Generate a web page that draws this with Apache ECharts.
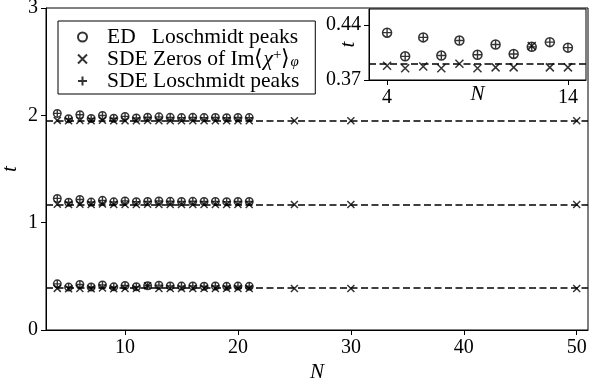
<!DOCTYPE html>
<html>
<head>
<meta charset="utf-8">
<script src="https://cdn.jsdelivr.net/npm/echarts@6/dist/echarts.min.js"></script>
<style>
  html, body { margin: 0; padding: 0; background: #fff; }
  #main { width: 598px; height: 384px; }
</style>
</head>
<body>
<div id="main"></div>
<script>
// system sizes N
var nSmall = [4, 5, 6, 7, 8, 9, 10, 11, 12, 13, 14, 15, 16, 17, 18, 19, 20, 21];
var nZeros = [4, 5, 6, 7, 8, 9, 10, 11, 12, 13, 14, 15, 16, 17, 18, 19, 20, 21, 25, 30, 50];

// reference lines (dashed)
var refLines = [0.386, 1.17, 1.95];

// ED Loschmidt peaks, one array per band
var edBand1 = [0.430, 0.400, 0.424, 0.401, 0.420, 0.402, 0.415, 0.403, 0.412, 0.418, 0.411, 0.409, 0.411, 0.408, 0.410, 0.407, 0.409, 0.407];
var edBand2 = [1.226, 1.190, 1.216, 1.192, 1.208, 1.194, 1.203, 1.196, 1.198, 1.202, 1.199, 1.197, 1.199, 1.197, 1.198, 1.196, 1.198, 1.197];
var edBand3 = [2.018, 1.968, 2.006, 1.970, 1.998, 1.973, 1.990, 1.975, 1.982, 1.986, 1.981, 1.979, 1.981, 1.979, 1.980, 1.978, 1.980, 1.979];

// SDE Loschmidt peaks
var sdeBand1 = [0.430, 0.400, 0.424, 0.401, 0.420, 0.402, 0.415, 0.403, 0.412, 0.418, 0.411, 0.409, 0.411, 0.408, 0.410, 0.407, 0.409, 0.407];
var sdeBand2 = [1.226, 1.190, 1.216, 1.192, 1.208, 1.194, 1.203, 1.196, 1.198, 1.202, 1.199, 1.197, 1.199, 1.197, 1.198, 1.196, 1.198, 1.197];
var sdeBand3 = [2.018, 1.968, 2.006, 1.970, 1.998, 1.973, 1.990, 1.975, 1.982, 1.986, 1.981, 1.979, 1.981, 1.979, 1.980, 1.978, 1.980, 1.979];

// SDE zeros of Im<chi+>_phi
var zeroBand1 = [0.388, 0.385, 0.387, 0.385, 0.3905, 0.385, 0.386, 0.386, 0.413, 0.386, 0.386, 0.386, 0.386, 0.386, 0.386, 0.386, 0.386, 0.386, 0.386, 0.386, 0.386];
var zeroBand2 = [1.172, 1.169, 1.171, 1.169, 1.174, 1.169, 1.170, 1.170, 1.171, 1.170, 1.170, 1.170, 1.170, 1.170, 1.170, 1.170, 1.170, 1.170, 1.170, 1.170, 1.170];
var zeroBand3 = [1.953, 1.949, 1.951, 1.949, 1.955, 1.949, 1.950, 1.950, 1.951, 1.950, 1.950, 1.950, 1.950, 1.950, 1.950, 1.950, 1.950, 1.950, 1.950, 1.950, 1.950];

var xTicksMain = [10, 20, 30, 40, 50];
var xTicksInset = [4, 14];
var yTicksInset = [0.37, 0.44];

var nameED = 'ED   Loschmidt peaks';
var nameZeros = 'SDE Zeros';
var nameSDE = 'SDE Loschmidt peaks';

var FONT = "'Liberation Serif', serif";
var crossPath = 'path://M0,0L10,10M10,0L0,10';
var plusPath = 'path://M5,0L5,10M0,5L10,5';

function pairs(xs, ys, maxN) {
    var res = [];
    for (var i = 0; i < xs.length; i++) {
        if (maxN == null || xs[i] <= maxN) res.push([xs[i], ys[i]]);
    }
    return res;
}

var myChart = echarts.init(document.getElementById('main'));

function axisBase() {
    return {
        type: 'value',
        axisLine: { show: true, onZero: false, lineStyle: { color: '#000', width: 1 } },
        axisTick: { show: true, inside: false, length: 5, lineStyle: { color: '#000', width: 1 } },
        axisLabel: { color: '#000', fontFamily: FONT, fontSize: 20, margin: 8 },
        splitLine: { show: false },
        nameMoveOverlap: false,
        nameTextStyle: { color: '#000', fontFamily: FONT, fontSize: 21, fontStyle: 'italic' }
    };
}

var xMain = axisBase();
xMain.gridIndex = 0; xMain.min = 3; xMain.max = 51;
xMain.axisTick.customValues = xTicksMain;
xMain.axisLabel.customValues = xTicksMain;
xMain.name = 'N'; xMain.nameLocation = 'middle'; xMain.nameGap = 32;

var yMain = axisBase();
yMain.gridIndex = 0; yMain.min = 0; yMain.max = 3; yMain.interval = 1;
yMain.name = 't'; yMain.nameLocation = 'middle'; yMain.nameGap = 25; yMain.nameRotate = 90;

var xInset = axisBase();
xInset.gridIndex = 1; xInset.min = 3; xInset.max = 15;
xInset.axisTick.customValues = xTicksInset;
xInset.axisLabel.customValues = xTicksInset;
xInset.name = 'N'; xInset.nameLocation = 'middle'; xInset.nameGap = 4;

var yInset = axisBase();
yInset.gridIndex = 1; yInset.min = 0.37; yInset.max = 0.46;
yInset.axisTick.customValues = yTicksInset;
yInset.axisLabel.customValues = yTicksInset;
yInset.axisLabel.formatter = function (v) { return v.toFixed(2); };
yInset.name = 't'; yInset.nameLocation = 'middle'; yInset.nameGap = 10; yInset.nameRotate = 90;

function circleSeries(data, xi, size) {
    return {
        name: nameED, type: 'scatter', xAxisIndex: xi, yAxisIndex: xi,
        data: data, symbol: 'circle', symbolSize: size,
        itemStyle: { color: 'rgba(0,0,0,0)', borderColor: '#000', borderWidth: 1.5 },
        z: 4
    };
}
function crossSeries(data, xi, size) {
    return {
        name: nameZeros, type: 'scatter', xAxisIndex: xi, yAxisIndex: xi,
        data: data, symbol: crossPath, symbolSize: size,
        itemStyle: { color: 'rgba(0,0,0,0)', borderColor: '#000', borderWidth: 1.5 },
        z: 4
    };
}
function plusSeries(data, xi, size) {
    return {
        name: nameSDE, type: 'scatter', xAxisIndex: xi, yAxisIndex: xi,
        data: data, symbol: plusPath, symbolSize: size,
        itemStyle: { color: 'rgba(0,0,0,0)', borderColor: '#000', borderWidth: 1.4 },
        z: 4
    };
}
function dashSeries(values, xi) {
    return {
        type: 'line', xAxisIndex: xi, yAxisIndex: xi, data: [], silent: true,
        markLine: {
            symbol: 'none', silent: true, animation: false,
            label: { show: false },
            lineStyle: { color: '#000', width: 1.5, type: [7, 3.5] },
            data: values.map(function (v) { return { yAxis: v }; })
        },
        z: 3
    };
}

var series = [
    dashSeries(refLines, 0),
    circleSeries(pairs(nSmall, edBand1), 0, 7.5),
    circleSeries(pairs(nSmall, edBand2), 0, 7.5),
    circleSeries(pairs(nSmall, edBand3), 0, 7.5),
    crossSeries(pairs(nZeros, zeroBand1), 0, 7),
    crossSeries(pairs(nZeros, zeroBand2), 0, 7),
    crossSeries(pairs(nZeros, zeroBand3), 0, 7),
    plusSeries(pairs(nSmall, sdeBand1), 0, 6.5),
    plusSeries(pairs(nSmall, sdeBand2), 0, 6.5),
    plusSeries(pairs(nSmall, sdeBand3), 0, 6.5),
    // inset: lowest band, N <= 14
    dashSeries([refLines[0]], 1),
    circleSeries(pairs(nSmall, edBand1, 14), 1, 9),
    crossSeries(pairs(nZeros, zeroBand1, 14), 1, 8),
    plusSeries(pairs(nSmall, sdeBand1, 14), 1, 8)
];

var option = {
    animation: false,
    backgroundColor: '#fff',
    grid: [
        { left: 46, right: 10, top: 8, bottom: 54, outerBoundsMode: 'none', show: true, borderColor: '#000', borderWidth: 1, backgroundColor: '#fff' },
        { left: 369, right: 12, top: 9, bottom: 304, outerBoundsMode: 'none', show: true, borderColor: '#000', borderWidth: 1, backgroundColor: '#fff' }
    ],
    xAxis: [xMain, xInset],
    yAxis: [yMain, yInset],
    legend: {
        data: [nameED, nameZeros, nameSDE],
        orient: 'vertical',
        left: 58, top: 21,
        padding: [5, 16, 2, 19],
        itemGap: 0,
        itemWidth: 9, itemHeight: 9,
        borderColor: '#000', borderWidth: 1, borderRadius: 0,
        backgroundColor: '#fff',
        selectedMode: false,
        formatter: function (name) {
            if (name === nameZeros) {
                return '{a|SDE Zeros of Im\u27e8}{i|\u03c7}{sup|+}{a|\u27e9}{sub|\u03c6}';
            }
            return '{a|' + name + '}';
        },
        textStyle: {
            color: '#000', fontFamily: FONT, fontSize: 21.5, lineHeight: 22,
            padding: [0, 0, 0, 15],
            rich: {
                a: { fontFamily: FONT, fontSize: 21.5, lineHeight: 22, color: '#000' },
                i: { fontFamily: FONT, fontSize: 21.5, lineHeight: 22, fontStyle: 'italic', color: '#000' },
                sup: { fontFamily: FONT, fontSize: 15, lineHeight: 22, verticalAlign: 'top', padding: [0, 0, 6, 0], color: '#000' },
                sub: { fontFamily: FONT, fontSize: 15, lineHeight: 22, fontStyle: 'italic', verticalAlign: 'bottom', padding: [6, 0, 0, 0], color: '#000' }
            }
        }
    },
    series: series
};
myChart.setOption(option);
</script>
</body>
</html>
